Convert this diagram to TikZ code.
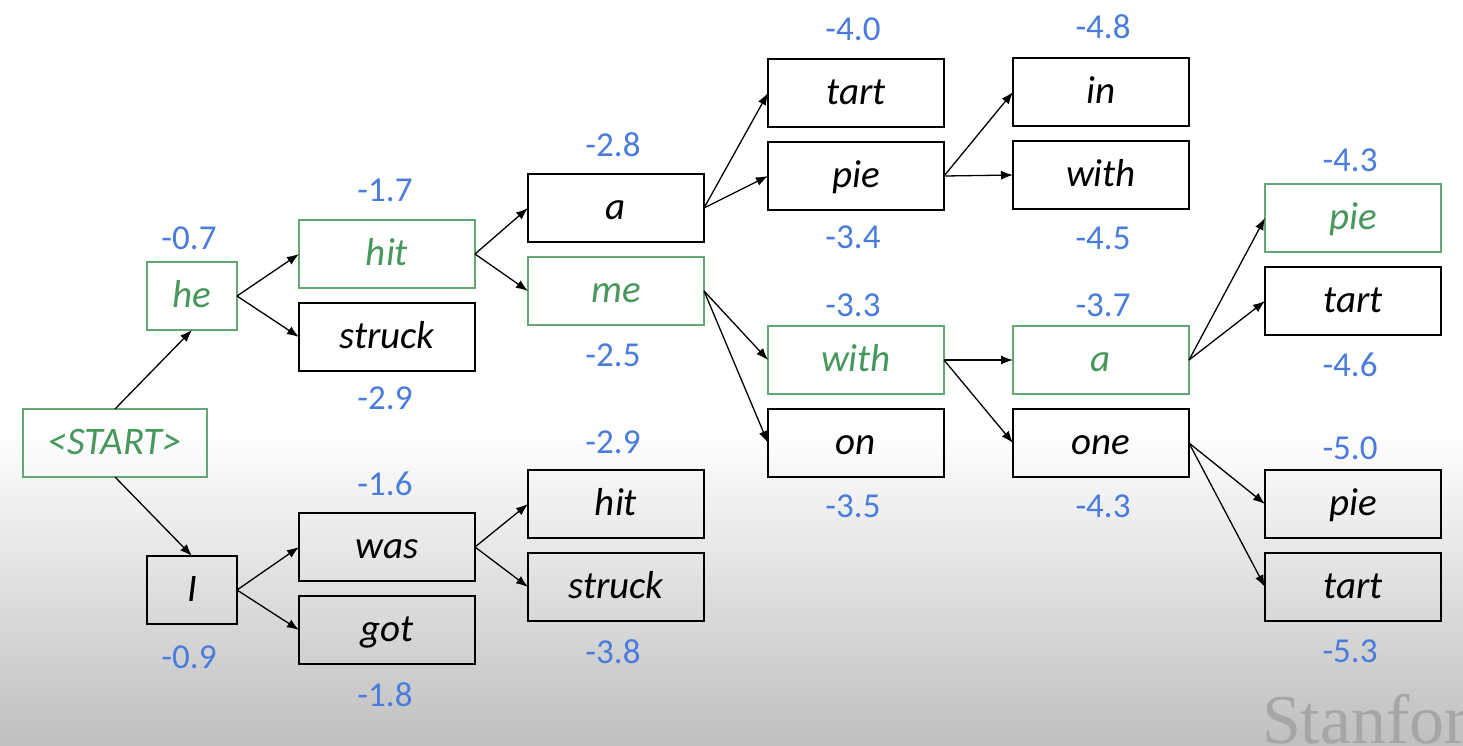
\documentclass[tikz,border=0pt]{standalone}
\usepackage{fontspec}
\setmainfont{Carlito}
\newfontfamily\stanfordfont{Liberation Serif}
\usetikzlibrary{arrows.meta}
\definecolor{beamgreen}{RGB}{72,152,94}
\definecolor{beamblue}{RGB}{74,124,220}

\begin{document}
\begin{tikzpicture}[x=1pt, y=-1pt,
  every node/.style={outer sep=0pt},
  word/.style={minimum width=176pt, minimum height=68pt, text height=26pt, text depth=4pt,
    font=\fontsize{39}{42}\selectfont\itshape},
  box/.style={word, draw=black, line width=1.6pt, text=black},
  gbox/.style={word, draw=beamgreen!85, line width=1.2pt, text=beamgreen},
  num/.style={inner sep=0pt, text=beamblue, font=\fontsize{35}{38}\selectfont},
  >={Latex[length=12pt,width=9pt]}]
\useasboundingbox (0,0) rectangle (1463,745);
\fill[white] (0,0) rectangle (1463,745);
\shade[top color=white, bottom color=gray!50] (0,430) rectangle (1463,745);
\node[anchor=base west, inner sep=0pt, text=gray!70!white, font=\stanfordfont\fontsize{70}{70}\selectfont] (watermark) at (1262,743) {Stanfor};

\node[gbox, minimum width=184pt] (start) at (115,443) {<START>};
\node[gbox, minimum width=90pt] (he) at (192,296) {he};
\node[box, minimum width=90pt] (I) at (192,590) {I};

\node[gbox] (hit) at (387,254) {hit};
\node[box] (struck) at (387,337) {struck};
\node[box] (was) at (387,547) {was};
\node[box] (got) at (387,630) {got};

\node[box] (a) at (616,208) {a};
\node[gbox] (me) at (616,291) {me};
\node[box] (hitB) at (616,504) {hit};
\node[box] (struckB) at (616,587) {struck};

\node[box] (tart) at (856,93) {tart};
\node[box] (pie) at (856,176) {pie};
\node[gbox] (with) at (856,360) {with};
\node[box] (on) at (856,443) {on};

\node[box] (in) at (1101,92) {in};
\node[box] (withB) at (1101,175) {with};
\node[gbox] (aB) at (1101,360) {a};
\node[box] (one) at (1101,443) {one};

\node[gbox] (pieB) at (1353,218) {pie};
\node[box] (tartB) at (1353,301) {tart};
\node[box] (pieC) at (1353,504) {pie};
\node[box] (tartC) at (1353,587) {tart};

% scores
\node[num] (s-he) at (189,238) {-0.7};
\node[num] (s-I) at (189,657) {-0.9};
\node[num] (s-hit) at (385,190) {-1.7};
\node[num] (s-struck) at (385,398) {-2.9};
\node[num] (s-was) at (385,484) {-1.6};
\node[num] (s-got) at (385,695) {-1.8};
\node[num] (s-a) at (613,145) {-2.8};
\node[num] (s-me) at (613,355) {-2.5};
\node[num] (s-hitB) at (613,442) {-2.9};
\node[num] (s-struckB) at (613,652) {-3.8};
\node[num] (s-tart) at (853,29) {-4.0};
\node[num] (s-pie) at (853,237) {-3.4};
\node[num] (s-with) at (853,305) {-3.3};
\node[num] (s-on) at (853,506) {-3.5};
\node[num] (s-in) at (1103,27) {-4.8};
\node[num] (s-withB) at (1103,238) {-4.5};
\node[num] (s-aB) at (1103,305) {-3.7};
\node[num] (s-one) at (1103,506) {-4.3};
\node[num] (s-pieB) at (1350,160) {-4.3};
\node[num] (s-tartB) at (1350,365) {-4.6};
\node[num] (s-pieC) at (1350,448) {-5.0};
\node[num] (s-tartC) at (1350,651) {-5.3};

\draw[->, line width=1.3pt] (start.north) -- (he.south);
\draw[->, line width=1.3pt] (start.south) -- (I.north);
\foreach \from/\to in {he/hit, he/struck, I/was, I/got, hit/a, hit/me, was/hitB, was/struckB,
    a/tart, a/pie, me/with, me/on, pie/in, pie/withB, with/aB, with/one,
    aB/pieB, aB/tartB, one/pieC, one/tartC}
  \draw[->, line width=1.3pt] (\from.east) -- (\to.west);
\end{tikzpicture}
\end{document}
